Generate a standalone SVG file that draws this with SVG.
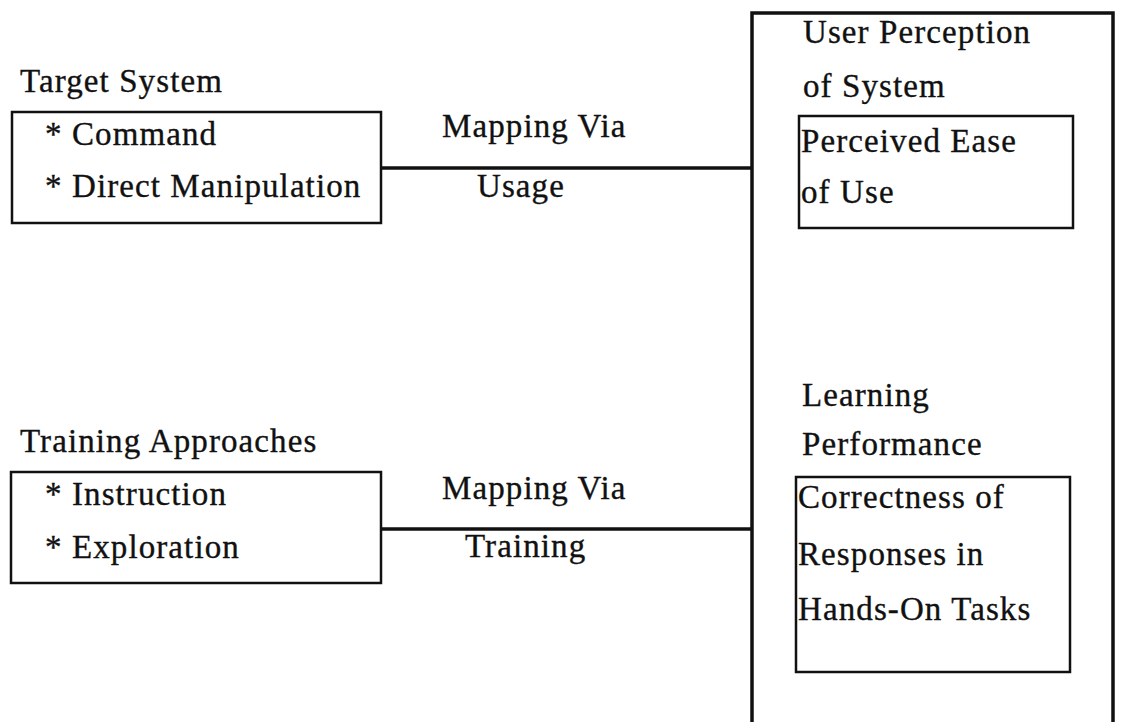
<svg xmlns="http://www.w3.org/2000/svg" width="1122" height="722" viewBox="0 0 1122 722">
<style>
text{font-family:"Liberation Serif","Times New Roman",serif;font-size:33px;fill:#111;stroke:#111;stroke-width:0.35;letter-spacing:1.1px}
.box{fill:none;stroke:#111;stroke-width:2.5}
.line{stroke:#111;stroke-width:3.5;fill:none}
</style>
<rect width="1122" height="722" fill="#fff"/>
<g id="target-system">
<text x="20" y="92">Target System</text>
<rect class="box" x="12" y="112" width="369" height="111"/>
<text x="45" y="145">* Command</text>
<text x="45" y="197">* Direct Manipulation</text>
</g>
<g id="training-approaches">
<text x="20" y="452">Training Approaches</text>
<rect class="box" x="11" y="472" width="370" height="111"/>
<text x="45" y="505">* Instruction</text>
<text x="45" y="558">* Exploration</text>
</g>
<g id="outcomes">
<rect class="box" x="752" y="13" width="361" height="730" style="stroke-width:3.5"/>
<text x="803" y="43">User Perception</text>
<text x="803" y="97">of System</text>
</g>
<g id="perceived-ease">
<rect class="box" x="799" y="116" width="274" height="112"/>
<text x="801" y="152">Perceived Ease</text>
<text x="801" y="203">of Use</text>
</g>
<g id="learning">
<text x="802" y="406">Learning</text>
<text x="802" y="455">Performance</text>
</g>
<g id="correctness">
<rect class="box" x="796" y="477" width="274" height="195"/>
<text x="798" y="508">Correctness of</text>
<text x="798" y="565">Responses in</text>
<text x="798" y="620">Hands-On Tasks</text>
</g>
<g id="connectors">
<line class="line" x1="381" y1="168" x2="752" y2="168"/>
<text x="442" y="137">Mapping Via</text>
<text x="477" y="197">Usage</text>
<line class="line" x1="381" y1="529" x2="752" y2="529"/>
<text x="442" y="499">Mapping Via</text>
<text x="465" y="557">Training</text>
</g>
</svg>
